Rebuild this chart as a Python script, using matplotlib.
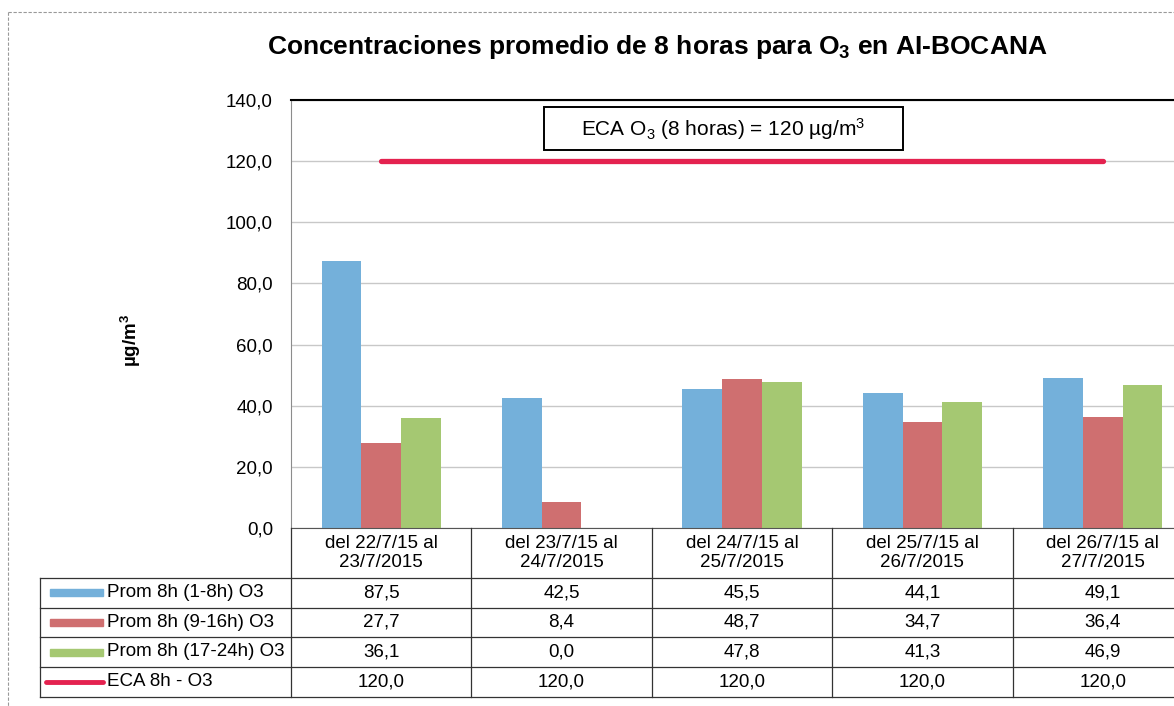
import matplotlib
matplotlib.use("Agg")
import matplotlib.pyplot as plt
import matplotlib.transforms as mtransforms
from matplotlib.lines import Line2D
from matplotlib.patches import Rectangle
import numpy as np

plt.rcParams['font.family'] = ['Liberation Sans', 'DejaVu Sans']
plt.rcParams['mathtext.fontset'] = 'custom'
plt.rcParams['mathtext.rm'] = 'Liberation Sans'
plt.rcParams['mathtext.it'] = 'Liberation Sans:italic'
plt.rcParams['mathtext.bf'] = 'Liberation Sans:bold'

# ---- data ----
categories = ["del 22/7/15 al\n23/7/2015", "del 23/7/15 al\n24/7/2015",
              "del 24/7/15 al\n25/7/2015", "del 25/7/15 al\n26/7/2015",
              "del 26/7/15 al\n27/7/2015"]
series_names = ["Prom 8h (1-8h) O3", "Prom 8h (9-16h) O3", "Prom 8h (17-24h) O3"]
prom_1_8 = [87.5, 42.5, 45.5, 44.1, 49.1]
prom_9_16 = [27.7, 8.4, 48.7, 34.7, 36.4]
prom_17_24 = [36.1, 0.0, 47.8, 41.3, 46.9]
eca_name = "ECA 8h - O3"
eca = [120.0, 120.0, 120.0, 120.0, 120.0]
yticks = [0, 20, 40, 60, 80, 100, 120, 140]

colors = ["#74B0DA", "#CF6F70", "#A5C872"]
eca_color = "#E4224F"

W, H = 1174, 706
fig = plt.figure(figsize=(W / 100, H / 100), dpi=100)

def fx(x):
    return x / W

def fy(y):
    return 1 - y / H

# axes geometry (pixels)
ax_left, ax_top, ax_bottom = 291, 100, 528
cat_w = 180.4
ax = fig.add_axes([fx(ax_left), fy(ax_bottom), 5 * cat_w / W, (ax_bottom - ax_top) / H])
x = np.arange(len(categories))
bw = 0.22
for i, (vals, c) in enumerate(zip([prom_1_8, prom_9_16, prom_17_24], colors)):
    ax.bar(x + (i - 1) * bw, vals, width=bw, color=c, edgecolor='none', zorder=2)
ax.plot(x, eca, color=eca_color, lw=3.8, solid_capstyle='round', zorder=3)

ax.set_xlim(-0.5, len(categories) - 0.5)
ax.set_ylim(0, 140)
ax.set_yticks(yticks)
ax.set_yticklabels([f"{v:.1f}".replace('.', ',') for v in yticks], fontsize=13.5)
ax.tick_params(axis='y', length=0, pad=13)
ax.set_xticks([])
ax.grid(axis='y', color='#c8c8c8', lw=1, zorder=0)
ax.set_axisbelow(True)
ax.spines['top'].set_color('black')
ax.spines['top'].set_linewidth(1.5)
ax.spines['left'].set_color('#8c8c8c')
ax.spines['bottom'].set_color('#555555')
ax.spines['right'].set_visible(False)

fig.text(fx(131), fy(340), "µg/m$^\\mathbf{3}$", rotation=90, ha='center', va='center',
         fontsize=13.5, fontweight='bold')

fig.text(fx(657), fy(47), "Concentraciones promedio de 8 horas para O$_\\mathbf{3}$ en AI-BOCANA",
         ha='center', va='center', fontsize=19, fontweight='bold')

# annotation box
bx0, bx1, by0, by1 = 544, 903, 107, 150
fig.add_artist(Rectangle((fx(bx0), fy(by1)), (bx1 - bx0) / W, (by1 - by0) / H,
                         transform=fig.transFigure, fc='white', ec='black', lw=1.4, zorder=5))
fig.text(fx((bx0 + bx1) / 2), fy((by0 + by1) / 2 + 1), "ECA O$_3$ (8 horas) = 120 µg/m$^3$",
         ha='center', va='center', fontsize=15, zorder=6)

# ---- data table ----
blend = mtransforms.blended_transform_factory(ax.transData, fig.transFigure)
row_lines = [578, 607.5, 637, 667, 697]
tbl_left = 40
lc = '#333333'
tfs = 13.5
for y in row_lines:
    fig.add_artist(Line2D([fx(tbl_left), 1.05], [fy(y), fy(y)], color=lc, lw=0.9))
for b in range(len(categories) + 1):
    fig.add_artist(Line2D([b - 0.5, b - 0.5], [fy(ax_bottom), fy(697)], color=lc, lw=0.9,
                          transform=blend))
fig.add_artist(Line2D([fx(tbl_left), fx(tbl_left)], [fy(578), fy(697)], color=lc, lw=0.9))

for i, cat in enumerate(categories):
    fig.text(i, fy(553), cat, transform=blend, ha='center', va='center', fontsize=tfs,
             linespacing=1.15)

rows = [prom_1_8, prom_9_16, prom_17_24, eca]
names = series_names + [eca_name]
for r, (vals, name) in enumerate(zip(rows, names)):
    yc = (row_lines[r] + row_lines[r + 1]) / 2
    for i, v in enumerate(vals):
        fig.text(i, fy(yc), f"{v:.1f}".replace('.', ','), transform=blend,
                 ha='center', va='center', fontsize=tfs)
    fig.text(fx(107), fy(yc), name, ha='left', va='center', fontsize=tfs)
    if r < 3:
        fig.add_artist(Rectangle((fx(50), fy(yc + 3.5)), fx(53), 7 / H,
                                 transform=fig.transFigure, color=colors[r]))
    else:
        fig.add_artist(Line2D([fx(46), fx(103)], [fy(yc), fy(yc)], color=eca_color, lw=3.5,
                              solid_capstyle='round'))

# outer frame (dashed)
fig.add_artist(Line2D([fx(8), 1], [fy(12), fy(12)], color='#999999', lw=0.8, ls=(0, (3, 1.5))))
fig.add_artist(Line2D([fx(8), fx(8)], [fy(12), 0], color='#999999', lw=0.8, ls=(0, (3, 1.5))))

fig.savefig("out.png", dpi=100)
